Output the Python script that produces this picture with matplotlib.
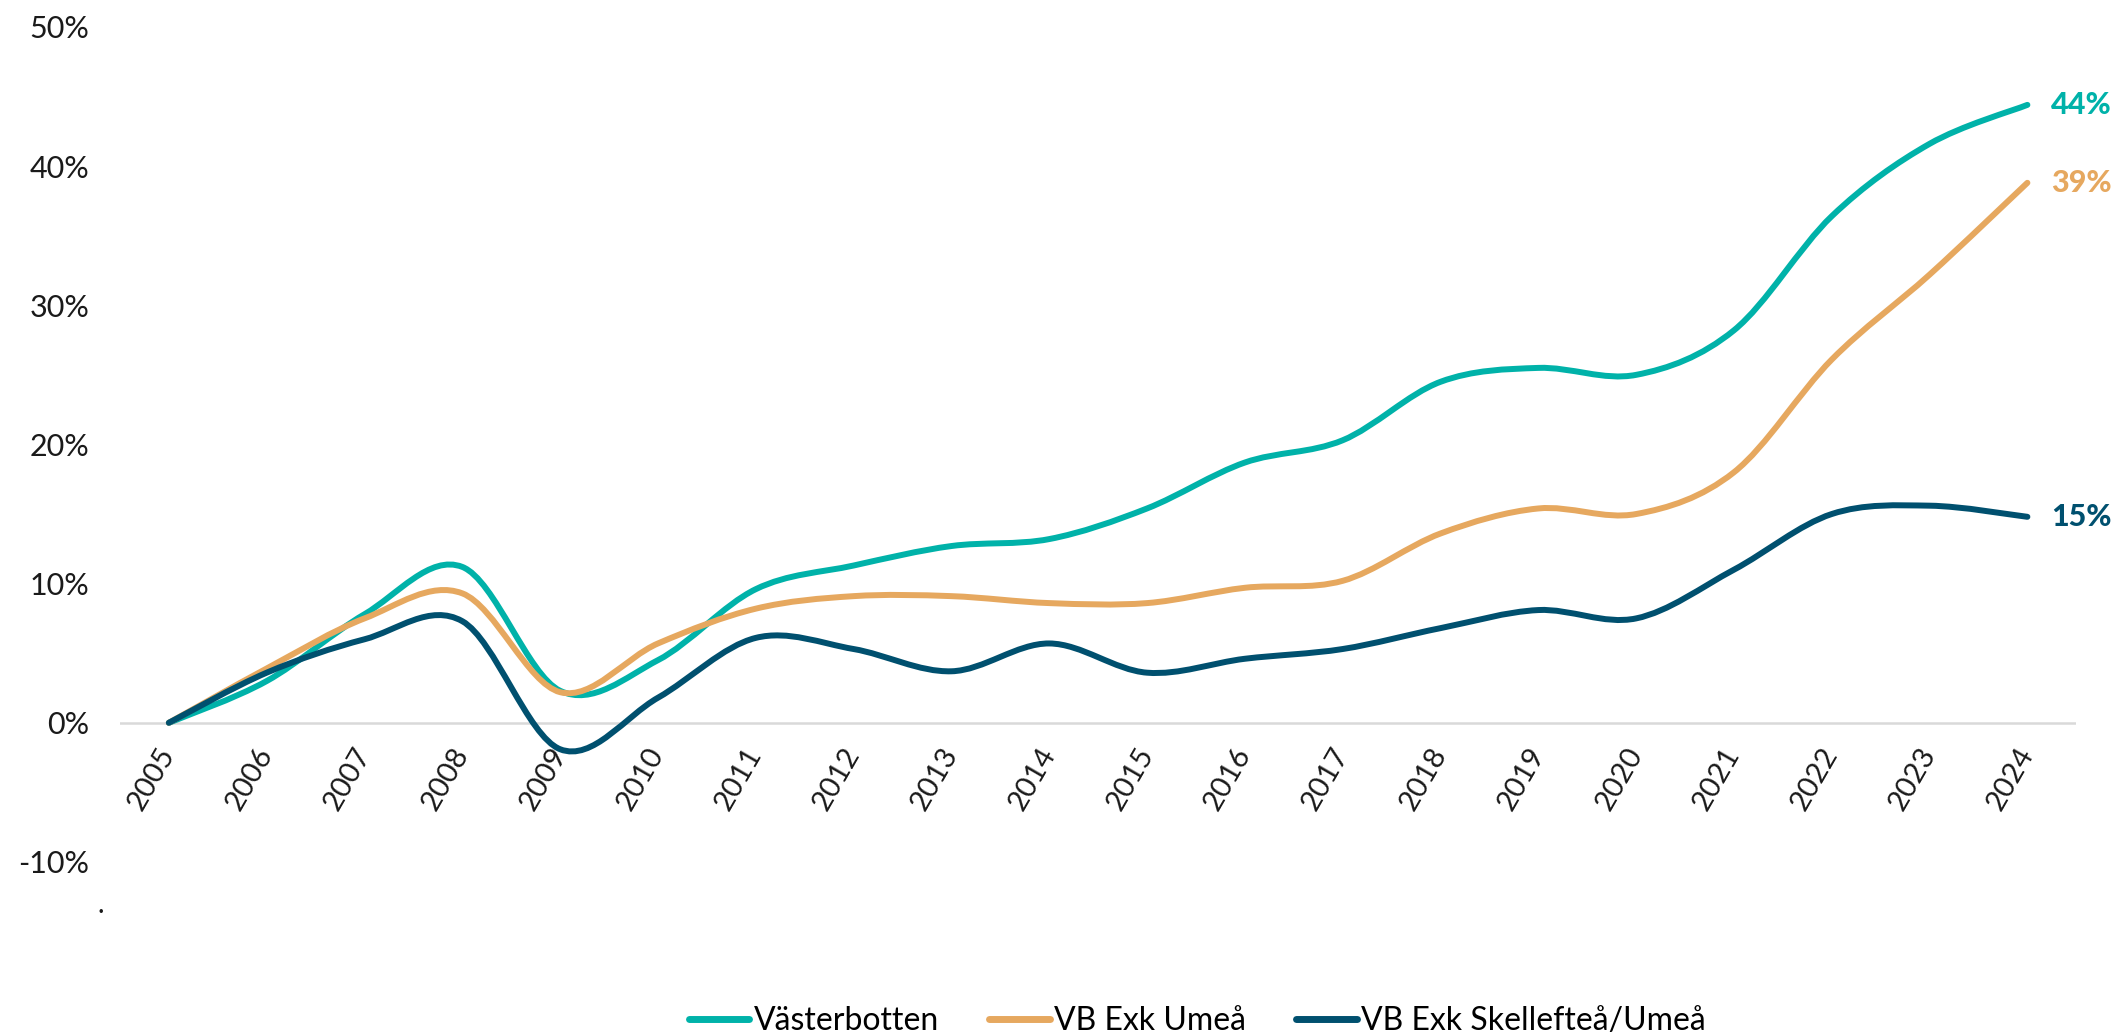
import numpy as np
import matplotlib
matplotlib.use("Agg")
import matplotlib.pyplot as plt
from matplotlib.path import Path
from matplotlib.patches import PathPatch
from matplotlib.lines import Line2D

# data (procentuell förändring sedan 2005)
years = list(range(2005, 2025))
vasterbotten = [0, 3.0, 7.8, 11.2, 2.3, 4.5, 9.6, 11.3, 12.7, 13.2,
                15.4, 18.7, 20.3, 24.5, 25.5, 25.0, 28.2, 36.4, 41.6, 44.4]
vb_exk_umea = [0, 3.9, 7.5, 9.3, 2.2, 5.7, 8.2, 9.1, 9.1, 8.6,
               8.6, 9.7, 10.2, 13.6, 15.4, 15.0, 18.0, 26.1, 32.2, 38.8]
vb_exk_ske_umea = [0, 3.6, 6.0, 7.3, -1.9, 1.8, 6.1, 5.3, 3.7, 5.7,
                   3.6, 4.6, 5.3, 6.8, 8.1, 7.5, 11.0, 15.0, 15.6, 14.8]
series_names = ["Västerbotten", "VB Exk Umeå", "VB Exk Skellefteå/Umeå"]
end_labels = ["44%", "39%", "15%"]
y_ticks = [-10, 0, 10, 20, 30, 40, 50]

colors = ["#00B2A9", "#E6A85F", "#00506F"]

plt.rcParams["font.family"] = ["Lato", "DejaVu Sans"]


def smooth_path(x, y):
    # Excel-liknande utjämnad linje: kubiska bezierkurvor genom punkterna
    pts = np.column_stack([x, y]).astype(float)
    n = len(pts)
    verts = [pts[0]]
    codes = [Path.MOVETO]
    for i in range(n - 1):
        p0 = pts[i - 1] if i > 0 else pts[i]
        p1 = pts[i]
        p2 = pts[i + 1]
        p3 = pts[i + 2] if i + 2 < n else pts[i + 1]
        c1 = p1 + (p2 - p0) / 6.0
        c2 = p2 - (p3 - p1) / 6.0
        verts += [c1, c2, p2]
        codes += [Path.CURVE4] * 3
    return Path(verts, codes)


fig = plt.figure(figsize=(21.23, 10.36), dpi=100)
ax = fig.add_axes([0.0565, 0.168, 0.9215, 0.806])

# x-axeln korsar vid 0 % (sätts före ticklabels, annars nollställs de)
ax.spines["bottom"].set_position(("data", 0))
for s in ax.spines.values():
    s.set_visible(False)

ax.axhline(0, color="#D9D9D9", lw=1.8, zorder=1)

all_series = [vasterbotten, vb_exk_umea, vb_exk_ske_umea]
handles = []
for vals, col, name, lab in zip(all_series, colors, series_names, end_labels):
    patch = PathPatch(smooth_path(years, vals), fill=False, edgecolor=col,
                      lw=4.3, capstyle="round", joinstyle="round", zorder=3)
    ax.add_patch(patch)
    handles.append(Line2D([], [], color=col, lw=5, solid_capstyle="round", label=name))
    ax.annotate(lab, xy=(years[-1], vals[-1]), xytext=(17, 0),
                textcoords="offset points", va="center", ha="left",
                color=col, fontsize=22, fontweight="black")

ax.set_xlim(years[0] - 0.5, years[-1] + 0.5)
ax.set_ylim(-10, 50)
ax.set_yticks(y_ticks)
ax.set_yticklabels([f"{t}%" for t in y_ticks])
ax.set_xticks(years)
ax.set_xticklabels([str(y) for y in years], rotation=60, ha="right",
                   va="center", rotation_mode="anchor")
ax.tick_params(axis="y", length=0, pad=22, labelsize=22, labelcolor="#1a1a1a")
ax.tick_params(axis="x", length=0, pad=19, labelsize=21, labelcolor="#1a1a1a")

fig.text(0.0475, 0.126, ".", fontsize=20, color="#1a1a1a", ha="center", va="center")

fig.legend(handles=handles, loc="center", bbox_to_anchor=(0.564, 0.014),
           ncol=3, frameon=False, fontsize=23, handlelength=1.9,
           handletextpad=0.15, columnspacing=1.55)

fig.savefig("out.png", dpi=100)
